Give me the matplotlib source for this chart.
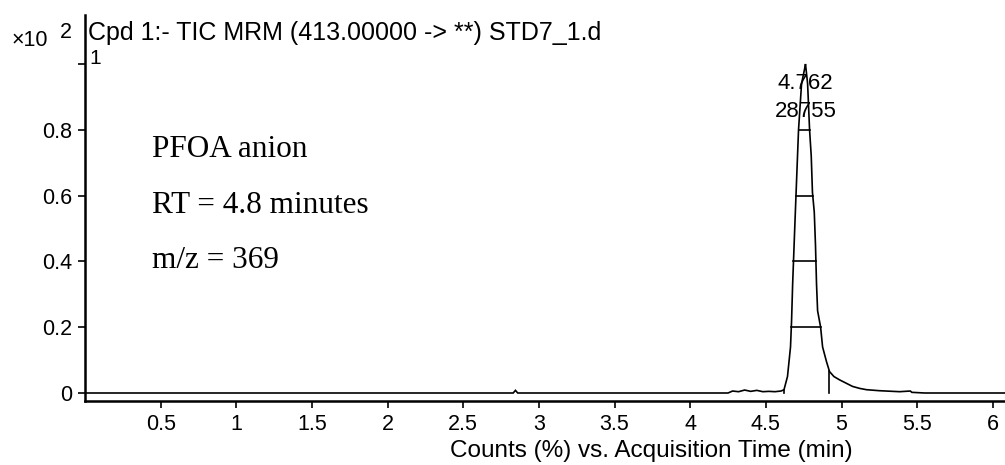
import matplotlib
matplotlib.use("Agg")
import matplotlib.pyplot as plt
import numpy as np

# ---- data ----
time_min = [0.00, 2.83, 2.845, 2.86, 4.25, 4.28, 4.32, 4.36, 4.40, 4.44, 4.48, 4.52,
            4.56, 4.60, 4.62, 4.643, 4.663, 4.670, 4.677, 4.690, 4.700, 4.716, 4.736,
            4.756, 4.762, 4.776, 4.789, 4.800, 4.808, 4.820, 4.828, 4.835, 4.842,
            4.862, 4.875, 4.901, 4.921, 4.950, 4.987, 5.030, 5.073, 5.120, 5.166,
            5.250, 5.384, 5.455, 5.465, 5.550, 6.08]
counts = [0.0, 0.0, 0.008, 0.0, 0.0, 0.006, 0.004, 0.009, 0.005, 0.008, 0.004, 0.005,
          0.004, 0.006, 0.010, 0.050, 0.140, 0.220, 0.330, 0.490, 0.610, 0.800, 0.940,
          0.985, 1.000, 0.940, 0.800, 0.720, 0.610, 0.550, 0.450, 0.330, 0.250,
          0.200, 0.140, 0.095, 0.065, 0.050, 0.040, 0.030, 0.020, 0.014, 0.010,
          0.007, 0.004, 0.006, 0.002, 0.0, 0.0]
ladder_levels = [0.2, 0.4, 0.6, 0.8]
integration_bounds = [4.62, 4.92]
peak_rt = "4.762"
peak_area = "28755"
x_ticks = [0.5, 1, 1.5, 2, 2.5, 3, 3.5, 4, 4.5, 5, 5.5, 6]
x_tick_labels = ["0.5", "1", "1.5", "2", "2.5", "3", "3.5", "4", "4.5", "5", "5.5", "6"]
y_ticks = [0, 0.2, 0.4, 0.6, 0.8, 1.0]
y_tick_labels = ["0", "0.2", "0.4", "0.6", "0.8", ""]
notes = ["PFOA anion", "RT = 4.8 minutes", "m/z = 369"]

W, H = 1005, 465
fig = plt.figure(figsize=(W / 100, H / 100), dpi=100)
ax = fig.add_axes([85 / W, 64 / H, 920 / W, 386 / H])

t = np.array(time_min)
c = np.array(counts)
ax.plot(t, c, color="black", lw=1.2, solid_joinstyle="miter")

# ladder (peak width markers)
apex = int(np.argmax(c))
for lv in ladder_levels:
    xl = np.interp(lv, c[:apex + 1], t[:apex + 1])
    xr = np.interp(lv, c[apex:][::-1], t[apex:][::-1])
    ax.plot([xl, xr], [lv, lv], color="black", lw=1.2)

# integration drop lines
for xb in integration_bounds:
    ax.plot([xb, xb], [0, np.interp(xb, t, c)], color="black", lw=1.2)

ax.set_xlim(0, 920 / 151.3)
ax.set_ylim(-8 / 329, 378 / 329)

for s in ["top", "right"]:
    ax.spines[s].set_visible(False)
for s in ["left", "bottom"]:
    ax.spines[s].set_linewidth(1.8)

sans = "Liberation Sans"
ax.set_xticks(x_ticks)
ax.set_xticklabels(x_tick_labels, family=sans, fontsize=15.5)
ax.set_yticks(y_ticks)
ax.set_yticklabels(y_tick_labels, family=sans, fontsize=15.5)
ax.tick_params(axis="both", direction="out", length=5, width=1.2, color="black", pad=4)

# "1" label right of the axis
fig.text(89 / W, 1 - 58 / H, "1", family=sans, fontsize=15, ha="left", va="center")

# header texts
fig.text(12 / W, 1 - 41 / H, "×10", family=sans, fontsize=15.5, ha="left", va="center")
fig.text(60 / W, 1 - 33 / H, "2", family=sans, fontsize=15.5, ha="left", va="center")
fig.text(88 / W, 1 - 33 / H, "Cpd 1:- TIC MRM (413.00000 -> **) STD7_1.d",
         family=sans, fontsize=18, ha="left", va="center")

# peak label
ax.text(4.762, 0.94, peak_rt, family=sans, fontsize=16, ha="center", va="center")
ax.text(4.762, 0.855, peak_area, family=sans, fontsize=16, ha="center", va="center")

# annotations
for i, s in enumerate(notes):
    fig.text(152 / W, 1 - (157 + 55.5 * i) / H, s, family="Liberation Serif",
             fontsize=22.5, ha="left", va="baseline")

fig.text(651 / W, 1 - 451 / H, "Counts (%) vs. Acquisition Time (min)",
         family=sans, fontsize=17.5, ha="center", va="center")

fig.savefig("out.png", dpi=100)
